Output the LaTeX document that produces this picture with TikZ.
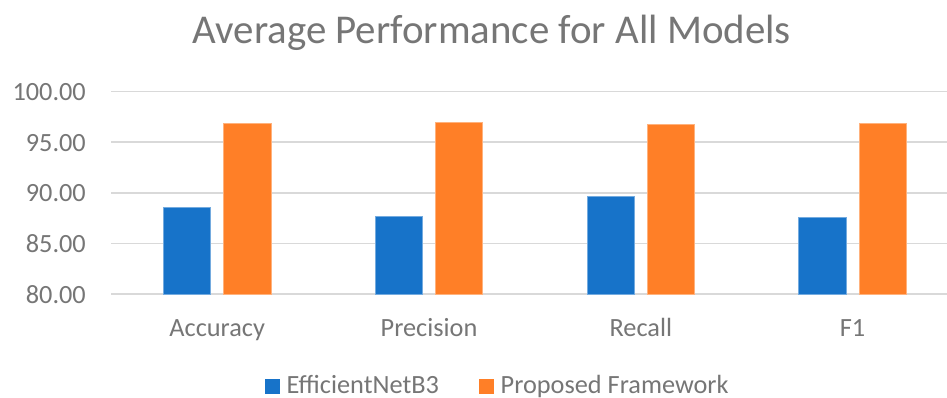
\documentclass[tikz,border=0pt]{standalone}
\usepackage{fontspec}
\setmainfont{Carlito}
\definecolor{txtgray}{HTML}{767676}
\definecolor{gridgray}{HTML}{D9D9D9}
\definecolor{barblue}{HTML}{1773C9}
\definecolor{barorange}{HTML}{FF7F27}
\begin{document}
\begin{tikzpicture}[x=1pt,y=-1pt,
  gridline/.style={draw=gridgray,line width=1.6pt},
  bluebar/.style={fill=barblue,draw=barblue!60!white,line width=0.6pt},
  orangebar/.style={fill=barorange,draw=barorange!60!white,line width=0.6pt},
  ticklab/.style={text=txtgray,font=\fontsize{26.3}{30}\selectfont,inner sep=0pt},
  titlelab/.style={text=txtgray,font=\fontsize{40.9}{46}\selectfont,inner sep=0pt},
]
\useasboundingbox (0,0) rectangle (947,398);
\fill[white] (0,0) rectangle (947,398);
% gridlines
\foreach \v/\lab in {80/80.00,85/85.00,90/90.00,95/95.00,100/100.00}{
  \pgfmathsetmacro{\yy}{294-(\v-80)*10.115}
  \draw[gridline] (111,\yy) -- (947,\yy);
  \node[ticklab,anchor=base east] (y\v) at (86,\yy+9) {\lab};
}
% bars: centers 217.2 + k*211.8
\foreach \k/\b/\o/\name in {0/88.61/96.86/Accuracy,1/87.69/97.00/Precision,2/89.67/96.80/Recall,3/87.59/96.86/F1}{
  \pgfmathsetmacro{\cx}{217.2+\k*211.8}
  \pgfmathsetmacro{\bt}{294-(\b-80)*10.115}
  \pgfmathsetmacro{\ot}{294-(\o-80)*10.115}
  \draw[bluebar] (\cx-53.9,294) rectangle (\cx-6.5,\bt);
  \draw[orangebar] (\cx+6.3,294) rectangle (\cx+53.7,\ot);
  \node[ticklab,anchor=base] (c\k) at (\cx,336) {\name};
}
% title
\node[titlelab,anchor=base] (title) at (491.7,43.3) {Average Performance for All Models};
% legend
\fill[barblue] (265,379) rectangle (280,393.5);
\node[ticklab,anchor=base west] (l1) at (286.5,393) {EfficientNetB3};
\fill[barorange] (479.3,379) rectangle (494,393.5);
\node[ticklab,anchor=base west] (l2) at (500.5,393) {Proposed Framework};
\end{tikzpicture}
\end{document}
